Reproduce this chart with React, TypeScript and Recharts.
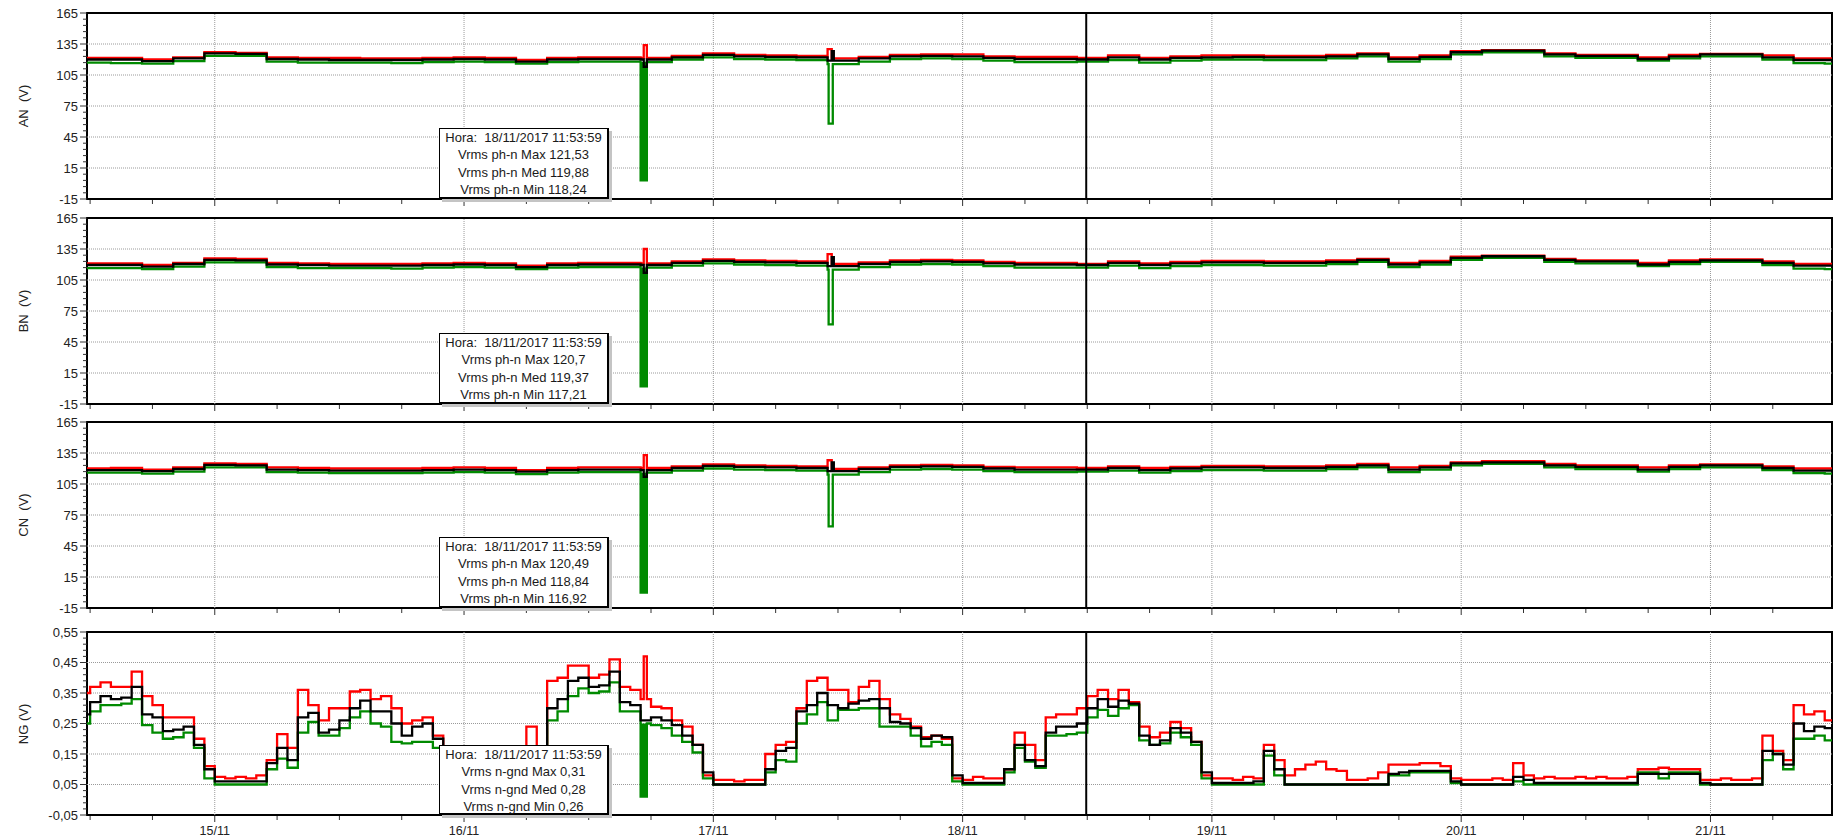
import React from 'react';
import { LineChart, Line, XAxis, YAxis, ReferenceLine, ReferenceArea } from 'recharts';

if (typeof document !== 'undefined') document.body.style.margin = '0';

const FONT = '"Liberation Sans", Arial, sans-serif';

// time axis in hours counted from 14/11/2017 00:00
const X_START = 11.7;
const X_END = 179.7;
const cursorHour = 107.9;
const xTicks = [12, 18, 24, 30, 36, 42, 48, 54, 60, 66, 72, 78, 84, 90, 96, 102, 108, 114, 120, 126, 132, 138, 144, 150, 156, 162, 168, 174];
const dayHours = [24, 48, 72, 96, 120, 144, 168];
const dayLabels = ['15/11', '16/11', '17/11', '18/11', '19/11', '20/11', '21/11'];

const voltTicks = [-15, -9, -3, 3, 9, 15, 21, 27, 33, 39, 45, 51, 57, 63, 69, 75, 81, 87, 93, 99, 105, 111, 117, 123, 129, 135, 141, 147, 153, 159, 165];
const voltMajor = [-15, 15, 45, 75, 105, 135, 165];
const ngTicks = [-0.05, -0.03, -0.01, 0.01, 0.03, 0.05, 0.07, 0.09, 0.11, 0.13, 0.15, 0.17, 0.19, 0.21, 0.23, 0.25, 0.27, 0.29, 0.31, 0.33, 0.35, 0.37, 0.39, 0.41, 0.43, 0.45, 0.47, 0.49, 0.51, 0.53, 0.55];
const ngMajor = [-0.05, 0.05, 0.15, 0.25, 0.35, 0.45, 0.55];

// voltage panels sampled every 3 hours
const vHours = [11, 14, 17, 20, 23, 26, 29, 32, 35, 38, 41, 44, 47, 50, 53, 56, 59, 62, 65, 68, 71, 74, 77, 80, 83, 86, 89, 92, 95, 98, 101, 104, 107, 110, 113, 116, 119, 122, 125, 128, 131, 134, 137, 140, 143, 146, 149, 152, 155, 158, 161, 164, 167, 170, 173, 176, 179, 182];

const anMax = [
  121.5, 121.5, 120, 122, 127, 126.5, 122, 121.5, 121.5, 121,
  121, 121.5, 122, 121.5, 119.5, 121.5, 122, 122, 121.5, 123.5,
  126, 124.5, 124, 123.5, 121, 122.5, 124.5, 125, 125, 123,
  122.5, 122.5, 121.5, 124, 121.5, 123, 124, 124, 123.5, 123.5,
  124.5, 126, 122, 124, 128, 129, 129, 126, 124.5, 124.5,
  122, 124.5, 125.5, 125.5, 124, 121, 121, 121,
];
const anMed = [
  120, 120, 118.5, 121, 126, 125.5, 120.5, 120, 119.5, 119.5,
  119.5, 120, 120.5, 120, 118, 120, 120.5, 120.5, 120, 122,
  124.5, 123, 122.5, 122, 119, 121, 123, 123.5, 123, 121.5,
  120.5, 120.5, 120, 122, 120, 121.5, 122, 122.5, 122, 122,
  123, 125, 120.5, 122.5, 127, 128.5, 128.5, 125, 123.5, 123.5,
  120.5, 123, 125, 125, 122, 119.5, 119.5, 119.5,
];
const anMin = [
  117, 116.5, 116, 118.5, 123.5, 123.5, 118, 117, 117, 117,
  116.5, 117.5, 118, 117.5, 116, 117.5, 118, 118, 117.5, 120,
  122, 120.5, 120, 119.5, 115.5, 118, 120.5, 121, 120.5, 119,
  117.5, 117.5, 118, 119.5, 117, 119, 120, 120, 119.5, 119.5,
  121, 123, 118, 120.5, 125, 127, 127, 123, 121.5, 121.5,
  119, 121, 123, 123, 120, 116.5, 116, 116,
];

const bnMax = [
  121, 121, 119.5, 121.5, 126, 125.5, 121.5, 121, 120.5, 120.5,
  120.5, 121, 121.5, 121, 119, 121, 121.5, 121.5, 121, 123,
  125, 124, 123.5, 123, 120.5, 122, 124, 124.5, 124, 122.5,
  121.5, 121.5, 120.5, 123, 121, 122.5, 123.5, 123.5, 123, 123,
  124, 125.5, 121.5, 123.5, 127.5, 128.5, 128.5, 125.5, 124, 124,
  121.5, 124, 125, 125, 123, 120.5, 120.5, 120.5,
];
const bnMed = [
  119.5, 119.5, 118, 120.5, 124.5, 124, 120, 119.5, 119, 119,
  119, 119.5, 120, 119.5, 117.5, 119.5, 120, 120, 119.5, 121.5,
  123.5, 122.5, 122, 121.5, 118.5, 120.5, 122.5, 123, 122.5, 121,
  120, 120, 119.5, 121.5, 119.5, 121, 122, 122, 121.5, 121.5,
  122.5, 124.5, 120, 122, 126.5, 128, 128, 124.5, 123, 123,
  120, 122.5, 124, 124, 121.5, 119, 119, 119,
];
const bnMin = [
  116.5, 116.5, 115.5, 118, 122, 122, 117.5, 116.5, 116.5, 116.5,
  116, 117, 117.5, 117, 115.5, 117, 117.5, 117.5, 117, 119,
  121, 120, 119.5, 119, 115, 117.5, 120, 120.5, 120, 118.5,
  117, 117, 117, 119, 116.5, 118.5, 119.5, 119.5, 119, 119,
  120.5, 122.5, 117.5, 120, 124.5, 126.5, 126.5, 122.5, 121, 121,
  118.5, 120.5, 122.5, 122.5, 119.5, 116, 115.5, 115.5,
];

const cnMax = [
  120, 120.5, 119, 121, 125, 124.5, 121, 120.5, 120, 120,
  120, 120.5, 121, 120.5, 118.5, 120.5, 121, 121, 120.5, 122,
  124, 123, 122.5, 122, 119.5, 121, 123, 123.5, 123, 121.5,
  121, 121, 120.5, 122, 120.5, 121.5, 122.5, 122.5, 122, 122,
  123, 124.5, 121, 122.5, 126, 127, 127, 124.5, 123, 123,
  121, 123, 124, 124, 122, 120, 120, 120,
];
const cnMed = [
  118.5, 118.5, 117.5, 119.5, 123.5, 123, 119, 118.5, 118, 118,
  118, 118.5, 119, 118.5, 117, 118.5, 119, 119, 118.5, 120.5,
  122.5, 121.5, 121, 120.5, 117.5, 119.5, 121.5, 122, 121.5, 120,
  119, 119, 119, 120.5, 118.5, 120, 121, 121, 120.5, 120.5,
  121.5, 123, 119, 121, 125, 126, 126, 123, 121.5, 121.5,
  119, 121.5, 123, 123, 120.5, 118, 118, 118,
];
const cnMin = [
  116, 116, 115, 117, 121, 121, 116.5, 116, 115.5, 115.5,
  115.5, 116, 116.5, 116, 114.5, 116, 116.5, 116.5, 116, 118,
  120, 119, 118.5, 118, 114, 116.5, 119, 119.5, 119, 117.5,
  116.5, 116.5, 117, 118, 116, 117.5, 118.5, 118.5, 118, 118,
  119.5, 121, 116.5, 119, 123, 124.5, 124.5, 121, 119.5, 119.5,
  117, 119.5, 121, 121, 118.5, 115.5, 115, 115,
];

// neutral-ground panel sampled every hour
const ngHours = [
  11, 12, 13, 14, 15, 16, 17, 18, 19, 20, 21, 22, 23, 24, 25, 26, 27, 28, 29, 30,
  31, 32, 33, 34, 35, 36, 37, 38, 39, 40, 41, 42, 43, 44, 45, 46, 47, 48, 49, 50,
  51, 52, 53, 54, 55, 56, 57, 58, 59, 60, 61, 62, 63, 64, 65, 66, 67, 68, 69, 70,
  71, 72, 73, 74, 75, 76, 77, 78, 79, 80, 81, 82, 83, 84, 85, 86, 87, 88, 89, 90,
  91, 92, 93, 94, 95, 96, 97, 98, 99, 100, 101, 102, 103, 104, 105, 106, 107, 108, 109, 110,
  111, 112, 113, 114, 115, 116, 117, 118, 119, 120, 121, 122, 123, 124, 125, 126, 127, 128, 129, 130,
  131, 132, 133, 134, 135, 136, 137, 138, 139, 140, 141, 142, 143, 144, 145, 146, 147, 148, 149, 150,
  151, 152, 153, 154, 155, 156, 157, 158, 159, 160, 161, 162, 163, 164, 165, 166, 167, 168, 169, 170,
  171, 172, 173, 174, 175, 176, 177, 178, 179, 180,
];
const ngMax = [
  0.35, 0.37, 0.385, 0.37, 0.37, 0.42, 0.34, 0.31, 0.27, 0.27,
  0.27, 0.2, 0.11, 0.075, 0.07, 0.075, 0.07, 0.08, 0.13, 0.215,
  0.17, 0.36, 0.31, 0.26, 0.3, 0.3, 0.355, 0.36, 0.33, 0.34,
  0.3, 0.25, 0.26, 0.27, 0.21, 0.15, 0.12, 0.08, 0.07, 0.07,
  0.08, 0.1, 0.14, 0.24, 0.17, 0.39, 0.4, 0.44, 0.44, 0.4,
  0.41, 0.46, 0.37, 0.36, 0.33, 0.305, 0.3, 0.26, 0.24, 0.18,
  0.08, 0.065, 0.065, 0.06, 0.065, 0.065, 0.15, 0.18, 0.19, 0.3,
  0.39, 0.4, 0.36, 0.36, 0.32, 0.37, 0.39, 0.33, 0.28, 0.265,
  0.24, 0.205, 0.21, 0.2, 0.07, 0.065, 0.075, 0.07, 0.07, 0.1,
  0.22, 0.18, 0.13, 0.27, 0.28, 0.28, 0.3, 0.34, 0.36, 0.33,
  0.36, 0.32, 0.24, 0.205, 0.22, 0.255, 0.235, 0.19, 0.08, 0.07,
  0.07, 0.065, 0.075, 0.07, 0.18, 0.13, 0.08, 0.1, 0.115, 0.125,
  0.1, 0.095, 0.065, 0.065, 0.07, 0.09, 0.115, 0.115, 0.115, 0.12,
  0.12, 0.11, 0.07, 0.065, 0.065, 0.065, 0.07, 0.065, 0.12, 0.08,
  0.07, 0.075, 0.07, 0.07, 0.075, 0.07, 0.075, 0.07, 0.07, 0.075,
  0.1, 0.1, 0.105, 0.1, 0.1, 0.1, 0.065, 0.065, 0.07, 0.065,
  0.065, 0.07, 0.21, 0.16, 0.13, 0.31, 0.28, 0.29, 0.26, 0.26,
];
const ngMed = [
  0.28, 0.32, 0.34, 0.33, 0.335, 0.37, 0.28, 0.27, 0.225, 0.23,
  0.24, 0.18, 0.1, 0.06, 0.06, 0.06, 0.06, 0.06, 0.12, 0.17,
  0.13, 0.27, 0.285, 0.22, 0.23, 0.26, 0.3, 0.325, 0.29, 0.29,
  0.25, 0.21, 0.24, 0.25, 0.2, 0.14, 0.1, 0.07, 0.06, 0.06,
  0.06, 0.08, 0.11, 0.12, 0.14, 0.3, 0.33, 0.39, 0.4, 0.37,
  0.375, 0.42, 0.32, 0.31, 0.26, 0.27, 0.26, 0.245, 0.21, 0.18,
  0.09, 0.05, 0.05, 0.05, 0.05, 0.05, 0.1, 0.16, 0.17, 0.29,
  0.31, 0.35, 0.31, 0.3, 0.315, 0.325, 0.33, 0.3, 0.255, 0.25,
  0.235, 0.2, 0.21, 0.205, 0.08, 0.055, 0.055, 0.055, 0.055, 0.1,
  0.18, 0.13, 0.11, 0.22, 0.24, 0.24, 0.25, 0.3, 0.33, 0.305,
  0.325, 0.315, 0.21, 0.18, 0.195, 0.235, 0.22, 0.19, 0.09, 0.055,
  0.055, 0.055, 0.055, 0.06, 0.16, 0.1, 0.05, 0.05, 0.05, 0.05,
  0.05, 0.05, 0.05, 0.05, 0.05, 0.05, 0.085, 0.09, 0.095, 0.095,
  0.095, 0.095, 0.06, 0.05, 0.05, 0.05, 0.05, 0.05, 0.075, 0.065,
  0.055, 0.055, 0.055, 0.055, 0.055, 0.055, 0.055, 0.055, 0.055, 0.055,
  0.085, 0.085, 0.085, 0.085, 0.085, 0.085, 0.055, 0.05, 0.05, 0.05,
  0.05, 0.05, 0.16, 0.15, 0.115, 0.25, 0.225, 0.24, 0.235, 0.235,
];
const ngMin = [
  0.25, 0.29, 0.31, 0.31, 0.315, 0.33, 0.245, 0.22, 0.2, 0.205,
  0.22, 0.17, 0.07, 0.05, 0.05, 0.05, 0.05, 0.05, 0.1, 0.135,
  0.105, 0.22, 0.255, 0.21, 0.21, 0.235, 0.27, 0.29, 0.25, 0.24,
  0.19, 0.185, 0.19, 0.19, 0.17, 0.12, 0.08, 0.06, 0.05, 0.05,
  0.05, 0.06, 0.09, 0.1, 0.12, 0.26, 0.29, 0.34, 0.365, 0.35,
  0.355, 0.385, 0.29, 0.29, 0.25, 0.245, 0.235, 0.21, 0.19, 0.155,
  0.07, 0.05, 0.05, 0.05, 0.05, 0.05, 0.09, 0.13, 0.125, 0.25,
  0.28, 0.32, 0.26, 0.295, 0.295, 0.3, 0.3, 0.24, 0.24, 0.24,
  0.21, 0.175, 0.19, 0.18, 0.06, 0.05, 0.05, 0.05, 0.05, 0.09,
  0.17, 0.125, 0.105, 0.21, 0.21, 0.215, 0.22, 0.27, 0.295, 0.275,
  0.3, 0.31, 0.195, 0.18, 0.185, 0.22, 0.205, 0.18, 0.07, 0.05,
  0.05, 0.05, 0.05, 0.05, 0.145, 0.08, 0.05, 0.05, 0.05, 0.05,
  0.05, 0.05, 0.05, 0.05, 0.05, 0.05, 0.08, 0.08, 0.09, 0.09,
  0.09, 0.09, 0.055, 0.05, 0.05, 0.05, 0.05, 0.05, 0.06, 0.05,
  0.05, 0.05, 0.05, 0.05, 0.05, 0.05, 0.05, 0.05, 0.05, 0.05,
  0.09, 0.09, 0.07, 0.09, 0.09, 0.09, 0.05, 0.05, 0.05, 0.05,
  0.05, 0.05, 0.13, 0.15, 0.1, 0.2, 0.2, 0.21, 0.195, 0.195,
];

// short events: [start hour, end hour, value]
type Spike = [number, number, number];
const anMaxSpikes: Spike[] = [[65.3, 65.6, 134], [83.0, 83.4, 130]];
const anMedSpikes: Spike[] = [[65.3, 65.6, 113], [83.4, 83.6, 128]];
const anMinSpikes: Spike[] = [[65.0, 65.2, 3], [65.2, 65.4, 4], [65.4, 65.6, 3], [83.1, 83.5, 58]];
const bnMaxSpikes: Spike[] = [[65.3, 65.6, 135], [83.0, 83.4, 130]];
const bnMedSpikes: Spike[] = [[65.3, 65.6, 112], [83.4, 83.6, 127]];
const bnMinSpikes: Spike[] = [[65.0, 65.2, 2], [65.2, 65.4, 3], [65.4, 65.6, 2], [83.1, 83.5, 62]];
const cnMaxSpikes: Spike[] = [[65.3, 65.6, 133], [83.0, 83.4, 128]];
const cnMedSpikes: Spike[] = [[65.3, 65.6, 112], [83.4, 83.6, 126]];
const cnMinSpikes: Spike[] = [[65.0, 65.2, 0], [65.2, 65.4, 1], [65.4, 65.6, 0], [83.1, 83.5, 64]];
const ngMaxSpikes: Spike[] = [[65.3, 65.6, 0.47]];
const ngMinSpikes: Spike[] = [[65.0, 65.2, 0.01], [65.2, 65.4, 0.015], [65.4, 65.6, 0.01]];

const anTip = ['Hora:  18/11/2017 11:53:59', 'Vrms ph-n Max 121,53', 'Vrms ph-n Med 119,88', 'Vrms ph-n Min 118,24'];
const bnTip = ['Hora:  18/11/2017 11:53:59', 'Vrms ph-n Max 120,7', 'Vrms ph-n Med 119,37', 'Vrms ph-n Min 117,21'];
const cnTip = ['Hora:  18/11/2017 11:53:59', 'Vrms ph-n Max 120,49', 'Vrms ph-n Med 118,84', 'Vrms ph-n Min 116,92'];
const ngTip = ['Hora:  18/11/2017 11:53:59', 'Vrms n-gnd Max 0,31', 'Vrms n-gnd Med 0,28', 'Vrms n-gnd Min 0,26'];

function buildPoints(hours: number[], values: number[], spikes: Spike[] = []) {
  const pts = hours.map((t, i) => ({ t, v: values[i] }));
  spikes.forEach(([a, b, v]) => {
    let back = values[0];
    hours.forEach((t, i) => {
      if (t <= b) back = values[i];
    });
    pts.push({ t: a, v }, { t: b, v: back });
  });
  return pts.sort((p, q) => p.t - q.t);
}

const fmtVolt = (v: number) => String(v);
const fmtNg = (v: number) => v.toFixed(2).replace('.', ',');

interface PanelProps {
  top: number;
  height: number;
  axisHeight: number;
  title: string;
  hours: number[];
  maxVals: number[];
  medVals: number[];
  minVals: number[];
  maxSpikes?: Spike[];
  medSpikes?: Spike[];
  minSpikes?: Spike[];
  yDomain: [number, number];
  yTicks: number[];
  yMajor: number[];
  fmt: (v: number) => string;
  showDates: boolean;
  tip: string[];
  tipHeight: number;
}

const Panel: React.FC<PanelProps> = (p) => {
  const marginTop = 13;
  const plotBottom = p.top + p.height - p.axisHeight;
  const plotMid = (p.top + marginTop + plotBottom) / 2;
  const grid = p.yMajor.slice(1, -1);

  const yTick = (props: any) => {
    const { x, y, payload } = props;
    const major = p.yMajor.some((m) => Math.abs(m - payload.value) < 1e-6);
    return (
      <g>
        <line x1={x - (major ? 7 : 4)} x2={x} y1={y} y2={y} stroke="#333" />
        {major && (
          <text x={x - 9} y={y + 4.5} textAnchor="end" fontSize={13} fill="#222" fontFamily={FONT}>
            {p.fmt(payload.value)}
          </text>
        )}
      </g>
    );
  };

  const xTick = (props: any) => {
    const { x, y, payload } = props;
    const i = dayHours.indexOf(payload.value);
    return (
      <g>
        <line x1={x} x2={x} y1={y + 1} y2={y + (i >= 0 ? 7 : 5)} stroke="#333" />
        {p.showDates && i >= 0 && (
          <text x={x} y={y + 20} textAnchor="middle" fontSize={12.5} fill="#222" fontFamily={FONT}>
            {dayLabels[i]}
          </text>
        )}
      </g>
    );
  };

  const series = [
    { vals: p.maxVals, spikes: p.maxSpikes, color: '#ff0000' },
    { vals: p.minVals, spikes: p.minSpikes, color: '#008a00' },
    { vals: p.medVals, spikes: p.medSpikes, color: '#000000' },
  ];

  return (
    <>
      <div style={{ position: 'absolute', left: 0, top: p.top }}>
        <LineChart width={1834} height={p.height} margin={{ top: marginTop, right: 2, left: 17, bottom: 0 }}>
          <XAxis
            type="number"
            dataKey="t"
            domain={[X_START, X_END]}
            allowDataOverflow
            ticks={xTicks}
            interval={0}
            tick={xTick}
            tickLine={false}
            axisLine={false}
            tickSize={0}
            tickMargin={0}
            height={p.axisHeight}
          />
          <YAxis
            type="number"
            domain={p.yDomain}
            allowDataOverflow
            ticks={p.yTicks}
            interval={0}
            tick={yTick}
            tickLine={false}
            axisLine={false}
            tickSize={0}
            tickMargin={0}
            width={70}
          />
          {grid.map((g) => (
            <ReferenceLine key={'h' + g} y={g} stroke="#9a9a9a" strokeDasharray="1 1" />
          ))}
          {dayHours.map((d) => (
            <ReferenceLine key={'v' + d} x={d} stroke="#9a9a9a" strokeDasharray="1 1" />
          ))}
          {series.map((s) => (
            <Line
              key={s.color}
              data={buildPoints(p.hours, s.vals, s.spikes)}
              dataKey="v"
              type="stepAfter"
              stroke={s.color}
              strokeWidth={2.3}
              strokeLinejoin="miter"
              dot={false}
              isAnimationActive={false}
            />
          ))}
          <ReferenceLine x={cursorHour} stroke="#000" strokeWidth={2} />
          <ReferenceArea
            x1={X_START}
            x2={X_END}
            y1={p.yDomain[0]}
            y2={p.yDomain[1]}
            fill="none"
            stroke="#000"
            strokeWidth={2}
            ifOverflow="visible"
          />
        </LineChart>
      </div>
      <div
        style={{
          position: 'absolute',
          left: 23,
          top: plotMid,
          transform: 'translate(-50%, -50%) rotate(-90deg)',
          whiteSpace: 'pre',
          fontFamily: FONT,
          fontSize: 13,
          color: '#222',
        }}
      >
        {p.title}
      </div>
      <div
        style={{
          position: 'absolute',
          left: 439,
          top: plotBottom - p.tipHeight,
          width: 170,
          height: p.tipHeight,
          boxSizing: 'border-box',
          background: '#fff',
          border: '1px solid #000',
          borderRightWidth: 2,
          borderBottomWidth: 2,
          boxShadow: '3px 3px 0 #c4c4c4',
          textAlign: 'center',
          fontFamily: FONT,
          fontSize: 13,
          lineHeight: '17.3px',
          color: '#1a1a1a',
          whiteSpace: 'pre',
        }}
      >
        {p.tip.map((line) => (
          <div key={line}>{line}</div>
        ))}
      </div>
    </>
  );
};

export default function App() {
  return (
    <div style={{ position: 'relative', width: 1834, height: 840, background: '#fff', overflow: 'hidden' }}>
      <Panel
        top={0}
        height={209}
        axisHeight={10}
        title="AN  (V)"
        hours={vHours}
        maxVals={anMax}
        medVals={anMed}
        minVals={anMin}
        maxSpikes={anMaxSpikes}
        medSpikes={anMedSpikes}
        minSpikes={anMinSpikes}
        yDomain={[-15, 165]}
        yTicks={voltTicks}
        yMajor={voltMajor}
        fmt={fmtVolt}
        showDates={false}
        tip={anTip}
        tipHeight={71}
      />
      <Panel
        top={205}
        height={209}
        axisHeight={10}
        title="BN  (V)"
        hours={vHours}
        maxVals={bnMax}
        medVals={bnMed}
        minVals={bnMin}
        maxSpikes={bnMaxSpikes}
        medSpikes={bnMedSpikes}
        minSpikes={bnMinSpikes}
        yDomain={[-15, 165]}
        yTicks={voltTicks}
        yMajor={voltMajor}
        fmt={fmtVolt}
        showDates={false}
        tip={bnTip}
        tipHeight={71}
      />
      <Panel
        top={409}
        height={209}
        axisHeight={10}
        title="CN  (V)"
        hours={vHours}
        maxVals={cnMax}
        medVals={cnMed}
        minVals={cnMin}
        maxSpikes={cnMaxSpikes}
        medSpikes={cnMedSpikes}
        minSpikes={cnMinSpikes}
        yDomain={[-15, 165]}
        yTicks={voltTicks}
        yMajor={voltMajor}
        fmt={fmtVolt}
        showDates={false}
        tip={cnTip}
        tipHeight={71}
      />
      <Panel
        top={619}
        height={221}
        axisHeight={25}
        title="NG (V)"
        hours={ngHours}
        maxVals={ngMax}
        medVals={ngMed}
        minVals={ngMin}
        maxSpikes={ngMaxSpikes}
        minSpikes={ngMinSpikes}
        yDomain={[-0.05, 0.55]}
        yTicks={ngTicks}
        yMajor={ngMajor}
        fmt={fmtNg}
        showDates={true}
        tip={ngTip}
        tipHeight={70}
      />
    </div>
  );
}
